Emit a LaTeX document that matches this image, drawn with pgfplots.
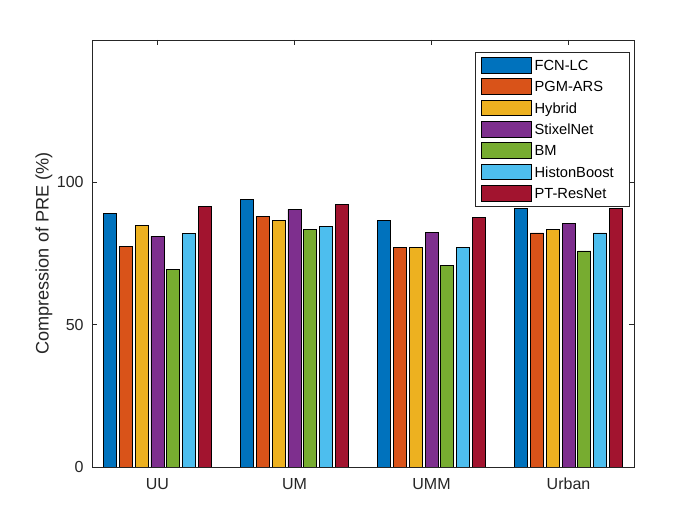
\documentclass[border=0pt]{standalone}
\usepackage{pgfplots}
\pgfplotsset{compat=1.18}
\usepackage{fontspec}
\setmainfont{Liberation Sans}
\definecolor{c1}{rgb}{0,0.447,0.741}
\definecolor{c2}{rgb}{0.85,0.325,0.098}
\definecolor{c3}{rgb}{0.929,0.694,0.125}
\definecolor{c4}{rgb}{0.494,0.184,0.556}
\definecolor{c5}{rgb}{0.466,0.674,0.188}
\definecolor{c6}{rgb}{0.301,0.745,0.933}
\definecolor{c7}{rgb}{0.635,0.078,0.184}
\definecolor{axgray}{rgb}{0.15,0.15,0.15}
\pgfplotsset{
  mybar/.style n args={2}{ybar, bar width=0.095, bar shift=#2, fill=#1, draw=black, line width=0.6pt,
    legend image code/.code={\draw[fill=#1,draw=black,line width=0.6pt] (0bp,-5.9bp) rectangle (37.5bp,5.9bp);}},
}
\begin{document}
\begin{tikzpicture}
\useasboundingbox (0,0) rectangle (525bp,393.75bp);
\fill[white] (0,0) rectangle (525bp,393.75bp);
\begin{axis}[
  at={(69bp,43.5bp)}, anchor=south west,
  scale only axis, width=406.5bp, height=320.25bp,
  xmin=0.522, xmax=4.478, ymin=0, ymax=150,
  xtick={1,2,3,4}, xticklabels={UU,UM,UMM,Urban},
  ytick={0,50,100},
  tick align=inside, tick pos=both,
  major tick length=4bp,
  axis line style={draw=axgray, line width=0.5pt},
  every tick/.style={draw=axgray, line width=0.5pt},
  ticklabel style={font=\fontsize{12bp}{14bp}\selectfont, text=axgray},
  /pgf/number format/assume math mode=true,
  xticklabel style={yshift=-5bp},
  yticklabel style={xshift=-2.8bp},
  ylabel={Compression of PRE (\%)},
  ylabel style={font=\fontsize{13.6bp}{16bp}\selectfont, text=axgray, at={(axis description cs:-0.0886,0.5)}, anchor=center},
  legend style={at={(axis description cs:0.9926,0.9712)}, anchor=north east,
    draw=axgray, line width=0.5pt, font=\fontsize{11bp}{13bp}\selectfont,
    nodes={inner sep=0bp, text height=8bp, text depth=0bp, text width=67.5bp, align=left, anchor=west},
    row sep=3.6bp, column sep=2.5bp, inner xsep=3.75bp, inner ysep=3.3bp},
  legend cell align=left,
]
\addplot[mybar={c1}{-0.345}] coordinates {(1,89.1) (2,94.0) (3,86.6) (4,90.8)};
\addplot[mybar={c2}{-0.23}] coordinates {(1,77.5) (2,88.0) (3,77.2) (4,82.2)};
\addplot[mybar={c3}{-0.115}] coordinates {(1,84.9) (2,86.6) (3,77.2) (4,83.5)};
\addplot[mybar={c4}{0}] coordinates {(1,81.0) (2,90.5) (3,82.4) (4,85.7)};
\addplot[mybar={c5}{0.115}] coordinates {(1,69.5) (2,83.5) (3,70.9) (4,75.9)};
\addplot[mybar={c6}{0.23}] coordinates {(1,82.1) (2,84.5) (3,77.2) (4,82.2)};
\addplot[mybar={c7}{0.345}] coordinates {(1,91.5) (2,92.2) (3,87.7) (4,90.8)};
\legend{FCN-LC,PGM-ARS,Hybrid,StixelNet,BM,HistonBoost,PT-ResNet}
\end{axis}
\end{tikzpicture}
\end{document}
